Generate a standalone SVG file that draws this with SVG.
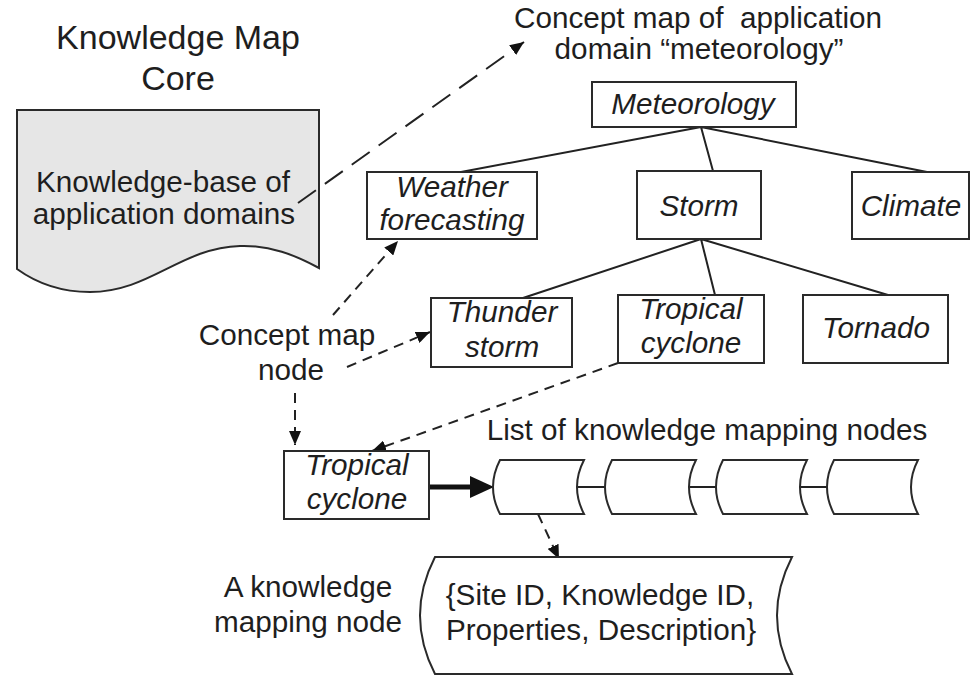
<svg xmlns="http://www.w3.org/2000/svg" width="972" height="693" viewBox="0 0 972 693">
<defs>
<style>
text{font-family:"Liberation Sans",Arial,sans-serif;font-size:29.7px;fill:#1e1e1e;text-anchor:middle}
.it{font-style:italic}
.title{font-size:34px}
.box{fill:#fff;stroke:#2a2a2a;stroke-width:2}
.tree{fill:none;stroke:#222;stroke-width:2}
.dash{fill:none;stroke:#222;stroke-width:2;stroke-dasharray:10 7}
.dashl{fill:none;stroke:#222;stroke-width:2;stroke-dasharray:22 11}
</style>
<marker id="ah" markerUnits="userSpaceOnUse" markerWidth="14" markerHeight="12" refX="14" refY="6" orient="auto">
<path d="M0,0 L14,6 L0,12 z" fill="#111"/>
</marker>
</defs>
<rect width="972" height="693" fill="#fff"/>

<g id="title">
<text class="title" x="178" y="49">Knowledge Map</text>
<text class="title" x="178" y="90">Core</text>
</g>

<g id="knowledge-base">
<path d="M17,110 H319 V268 C295,255 270,245 240,246 C180,248 150,292 90,292 C60,292 35,282 17,269 Z" fill="#e6e6e6" stroke="#2a2a2a" stroke-width="2"/>
<text x="163" y="192">Knowledge-base of</text>
<text x="164" y="224">application domains</text>
</g>

<g id="concept-map-label">
<text x="698" y="28" xml:space="preserve">Concept map of  application</text>
<text x="699" y="59">domain “meteorology”</text>
</g>

<g id="connectors">
<path class="dashl" d="M298,203 L524,42" marker-end="url(#ah)"/>
<path class="tree" d="M701,127 L461,172 M701,127 L713,171 M701,127 L927,172"/>
<path class="tree" d="M701,239 L523,298 M701,239 L715,295 M701,239 L888,295"/>
<path class="dash" d="M333,315 L398,241" marker-end="url(#ah)"/>
<path class="dash" d="M347,367 L430,332" marker-end="url(#ah)"/>
<path class="dash" d="M295,393 L295,445" marker-end="url(#ah)"/>
<path class="dash" d="M618,363 L372,451" marker-end="url(#ah)"/>
<path class="dash" d="M538,514 L559,559" marker-end="url(#ah)"/>
<path d="M430,487 L474,487" stroke="#111" stroke-width="5"/>
<path d="M470,476 L494,487 L470,498 z" fill="#111"/>
<path class="tree" d="M577,487 H605 M689,487 H716 M800,487 H827"/>
</g>

<g id="meteorology">
<rect class="box" x="592" y="82" width="204" height="45"/>
<text class="it" x="693" y="114">Meteorology</text>
</g>
<g id="weather-forecasting">
<rect class="box" x="367" y="172" width="170" height="67"/>
<text class="it" x="452" y="197">Weather</text>
<text class="it" x="452" y="230">forecasting</text>
</g>
<g id="storm">
<rect class="box" x="637" y="171" width="124" height="68"/>
<text class="it" x="699" y="216">Storm</text>
</g>
<g id="climate">
<rect class="box" x="852" y="172" width="117" height="67"/>
<text class="it" x="911" y="216">Climate</text>
</g>
<g id="thunder-storm">
<rect class="box" x="431" y="298" width="141" height="69"/>
<text class="it" x="502" y="322">Thunder</text>
<text class="it" x="502" y="357">storm</text>
</g>
<g id="tropical-cyclone">
<rect class="box" x="618" y="295" width="146" height="68"/>
<text class="it" x="691" y="319">Tropical</text>
<text class="it" x="691" y="353">cyclone</text>
</g>
<g id="tornado">
<rect class="box" x="803" y="295" width="145" height="68"/>
<text class="it" x="876" y="338">Tornado</text>
</g>

<g id="concept-map-node-label">
<text x="287" y="345">Concept map</text>
<text x="291" y="380">node</text>
</g>

<g id="tropical-cyclone-instance">
<rect class="box" x="284" y="451" width="145" height="68"/>
<text class="it" x="357" y="475">Tropical</text>
<text class="it" x="357" y="509">cyclone</text>
</g>

<g id="list-label">
<text x="707" y="440">List of knowledge mapping nodes</text>
</g>

<g id="list-node-1"><path class="box" d="M500,460 H584 Q570,487 584,514 H500 Q486,487 500,460 Z"/></g>
<g id="list-node-2"><path class="box" d="M612,460 H696 Q682,487 696,514 H612 Q598,487 612,460 Z"/></g>
<g id="list-node-3"><path class="box" d="M723,460 H807 Q793,487 807,514 H723 Q709,487 723,460 Z"/></g>
<g id="list-node-4"><path class="box" d="M834,460 H918 Q904,487 918,514 H834 Q820,487 834,460 Z"/></g>

<g id="knowledge-mapping-node">
<path class="box" d="M435,557 H792 Q762,615.5 792,674 H435 Q405,615.5 435,557 Z"/>
<text x="600" y="605">{Site ID, Knowledge ID,</text>
<text x="601" y="640">Properties, Description}</text>
</g>

<g id="knowledge-mapping-node-label">
<text x="308" y="597">A knowledge</text>
<text x="308" y="632">mapping node</text>
</g>
</svg>
